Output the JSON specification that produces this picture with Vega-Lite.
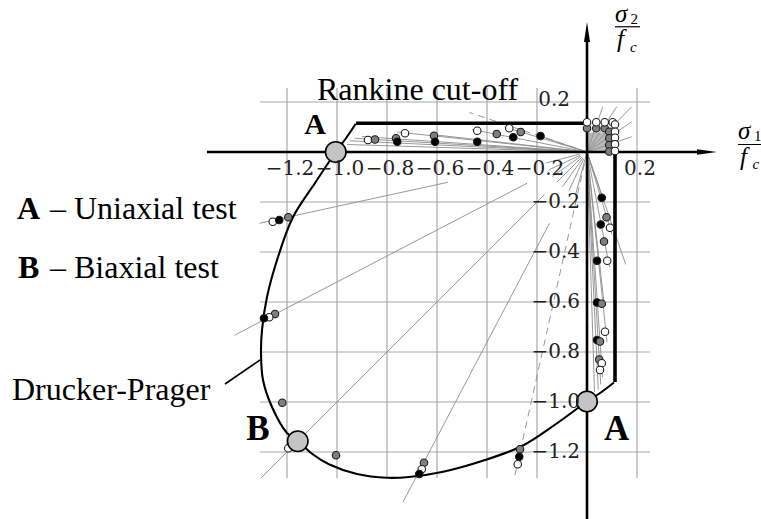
{
  "$schema": "https://vega.github.io/schema/vega-lite/v6.json",
  "width": 761,
  "height": 519,
  "autosize": {"type": "none"},
  "padding": 0,
  "background": "white",
  "config": {"view": {"stroke": null}},
  "datasets": {
    "grid": [
      {"x": -1.2, "y": -1.304, "x2": -1.2, "y2": 0.256},
      {"x": -1.0, "y": -1.304, "x2": -1.0, "y2": 0.256},
      {"x": -0.8, "y": -1.304, "x2": -0.8, "y2": 0.256},
      {"x": -0.6, "y": -1.304, "x2": -0.6, "y2": 0.256},
      {"x": -0.4, "y": -1.304, "x2": -0.4, "y2": 0.256},
      {"x": -0.2, "y": -1.304, "x2": -0.2, "y2": 0.256},
      {"x": 0.2, "y": -1.304, "x2": 0.2, "y2": 0.256},
      {"x": -1.308, "y": -1.2, "x2": 0.252, "y2": -1.2},
      {"x": -1.308, "y": -1.0, "x2": 0.252, "y2": -1.0},
      {"x": -1.308, "y": -0.8, "x2": 0.252, "y2": -0.8},
      {"x": -1.308, "y": -0.6, "x2": 0.252, "y2": -0.6},
      {"x": -1.308, "y": -0.4, "x2": 0.252, "y2": -0.4},
      {"x": -1.308, "y": -0.2, "x2": 0.252, "y2": -0.2},
      {"x": -1.308, "y": 0.2, "x2": 0.252, "y2": 0.2}
    ],
    "square": [{"x": 0, "y": 0, "x2": 0.082, "y2": 0.078}],
    "paths": [
      {"x": 0, "y": 0, "x2": -0.96, "y2": 0.03},
      {"x": 0, "y": 0, "x2": -0.95, "y2": 0.045},
      {"x": 0, "y": 0, "x2": -0.93, "y2": 0.055},
      {"x": 0, "y": 0, "x2": -0.9, "y2": 0.062},
      {"x": 0, "y": 0, "x2": -0.76, "y2": 0.08},
      {"x": 0, "y": 0, "x2": -0.62, "y2": 0.07},
      {"x": 0, "y": 0, "x2": -0.46, "y2": 0.09},
      {"x": 0, "y": 0, "x2": -0.33, "y2": 0.1},
      {"x": 0, "y": 0, "x2": -0.2, "y2": 0.068},
      {"x": 0, "y": 0, "x2": 0.03, "y2": -0.96},
      {"x": 0, "y": 0, "x2": 0.045, "y2": -0.95},
      {"x": 0, "y": 0, "x2": 0.055, "y2": -0.93},
      {"x": 0, "y": 0, "x2": 0.062, "y2": -0.9},
      {"x": 0, "y": 0, "x2": 0.08, "y2": -0.76},
      {"x": 0, "y": 0, "x2": 0.07, "y2": -0.62},
      {"x": 0, "y": 0, "x2": 0.09, "y2": -0.46},
      {"x": 0, "y": 0, "x2": 0.1, "y2": -0.33},
      {"x": 0, "y": 0, "x2": 0.068, "y2": -0.2},
      {"x": 0, "y": 0, "x2": 0.155, "y2": -0.45},
      {"x": 0, "y": 0, "x2": 0.063, "y2": 0.181},
      {"x": 0, "y": 0, "x2": 0.119, "y2": 0.181},
      {"x": 0, "y": 0, "x2": 0.179, "y2": 0.181},
      {"x": 0, "y": 0, "x2": 0.179, "y2": 0.121},
      {"x": 0, "y": 0, "x2": 0.179, "y2": 0.061},
      {"x": -1.31, "y": -0.285, "x2": -0.556, "y2": -0.121},
      {"x": -1.41, "y": -0.733, "x2": -0.24, "y2": -0.125},
      {"x": -1.305, "y": -1.305, "x2": -0.17, "y2": -0.17},
      {"x": -0.736, "y": -1.4, "x2": -0.15, "y2": -0.285},
      {"x": -0.029, "y": -0.008, "x2": -0.164, "y2": -0.044},
      {"x": -0.027, "y": -0.013, "x2": -0.154, "y2": -0.072},
      {"x": -0.025, "y": -0.017, "x2": -0.139, "y2": -0.098},
      {"x": -0.021, "y": -0.021, "x2": -0.12, "y2": -0.12},
      {"x": -0.017, "y": -0.025, "x2": -0.098, "y2": -0.139},
      {"x": -0.013, "y": -0.027, "x2": -0.072, "y2": -0.154},
      {"x": -0.008, "y": -0.029, "x2": -0.044, "y2": -0.164}
    ],
    "pathsDashed": [
      {"x": 0, "y": 0, "x2": -0.47, "y2": 0.158},
      {"x": 0, "y": 0, "x2": -0.29, "y2": -1.3}
    ],
    "axes": [
      {"x": -1.52, "y": 0, "x2": 0.45, "y2": 0},
      {"x": 0, "y": -1.5, "x2": 0, "y2": 0.45}
    ],
    "arrowX": [{"x": 0.48, "y": 0}],
    "arrowY": [{"x": 0, "y": 0.48}],
    "rankine": [
      {"x": -0.924, "y": 0.115, "x2": 0, "y2": 0.115},
      {"x": 0.112, "y": 0, "x2": 0.112, "y2": -0.92}
    ],
    "druckerPrager": [
      {"i": 0, "x": -0.925, "y": 0.113},
      {"i": 1, "x": -0.962, "y": 0.058},
      {"i": 2, "x": -1.005, "y": 0.0},
      {"i": 3, "x": -1.088, "y": -0.124},
      {"i": 4, "x": -1.176, "y": -0.26},
      {"i": 5, "x": -1.236, "y": -0.42},
      {"i": 6, "x": -1.28, "y": -0.58},
      {"i": 7, "x": -1.3, "y": -0.712},
      {"i": 8, "x": -1.304, "y": -0.804},
      {"i": 9, "x": -1.296, "y": -0.912},
      {"i": 10, "x": -1.26, "y": -1.02},
      {"i": 11, "x": -1.2, "y": -1.124},
      {"i": 12, "x": -1.156, "y": -1.156},
      {"i": 13, "x": -1.1, "y": -1.207},
      {"i": 14, "x": -1.03, "y": -1.25},
      {"i": 15, "x": -0.92, "y": -1.288},
      {"i": 16, "x": -0.8, "y": -1.303},
      {"i": 17, "x": -0.712, "y": -1.3},
      {"i": 18, "x": -0.58, "y": -1.28},
      {"i": 19, "x": -0.42, "y": -1.236},
      {"i": 20, "x": -0.26, "y": -1.176},
      {"i": 21, "x": -0.124, "y": -1.088},
      {"i": 22, "x": 0.0, "y": -0.998},
      {"i": 23, "x": 0.058, "y": -0.96},
      {"i": 24, "x": 0.108, "y": -0.922}
    ],
    "leader": [{"x": -1.448, "y": -0.928, "x2": -1.308, "y2": -0.832}],
    "markers": [
      {"type": "open", "x": -0.876, "y": 0.048},
      {"type": "gray", "x": -0.848, "y": 0.05},
      {"type": "gray", "x": -0.764, "y": 0.055},
      {"type": "black", "x": -0.759, "y": 0.041},
      {"type": "open", "x": -0.728, "y": 0.075},
      {"type": "gray", "x": -0.612, "y": 0.065},
      {"type": "black", "x": -0.608, "y": 0.041},
      {"type": "open", "x": -0.439, "y": 0.085},
      {"type": "black", "x": -0.439, "y": 0.041},
      {"type": "gray", "x": -0.361, "y": 0.072},
      {"type": "open", "x": -0.311, "y": 0.095},
      {"type": "black", "x": -0.295, "y": 0.059},
      {"type": "gray", "x": -0.265, "y": 0.08},
      {"type": "black", "x": -0.186, "y": 0.064},
      {"type": "gray", "x": 0.0, "y": 0.095},
      {"type": "gray", "x": 0.037, "y": 0.095},
      {"type": "gray", "x": 0.071, "y": 0.095},
      {"type": "gray", "x": 0.089, "y": 0.081},
      {"type": "gray", "x": 0.089, "y": 0.055},
      {"type": "gray", "x": 0.089, "y": 0.028},
      {"type": "gray", "x": 0.089, "y": 0.002},
      {"type": "open", "x": 0.0, "y": 0.119},
      {"type": "open", "x": 0.037, "y": 0.119},
      {"type": "open", "x": 0.071, "y": 0.119},
      {"type": "open", "x": 0.103, "y": 0.119},
      {"type": "open", "x": 0.112, "y": 0.11},
      {"type": "open", "x": 0.112, "y": 0.081},
      {"type": "open", "x": 0.112, "y": 0.057},
      {"type": "open", "x": 0.112, "y": 0.031},
      {"type": "open", "x": 0.112, "y": 0.004},
      {"type": "black", "x": 0.059, "y": -0.183},
      {"type": "gray", "x": 0.078, "y": -0.261},
      {"type": "black", "x": 0.055, "y": -0.29},
      {"type": "open", "x": 0.092, "y": -0.303},
      {"type": "gray", "x": 0.068, "y": -0.358},
      {"type": "black", "x": 0.04, "y": -0.435},
      {"type": "open", "x": 0.081, "y": -0.435},
      {"type": "black", "x": 0.04, "y": -0.602},
      {"type": "gray", "x": 0.059, "y": -0.607},
      {"type": "open", "x": 0.072, "y": -0.719},
      {"type": "black", "x": 0.04, "y": -0.752},
      {"type": "gray", "x": 0.052, "y": -0.758},
      {"type": "gray", "x": 0.049, "y": -0.83},
      {"type": "open", "x": 0.059, "y": -0.845},
      {"type": "open", "x": 0.052, "y": -0.872},
      {"type": "open", "x": -1.257, "y": -0.279},
      {"type": "black", "x": -1.231, "y": -0.272},
      {"type": "gray", "x": -1.195, "y": -0.261},
      {"type": "gray", "x": -1.248, "y": -0.648},
      {"type": "open", "x": -1.271, "y": -0.661},
      {"type": "black", "x": -1.292, "y": -0.665},
      {"type": "gray", "x": -1.219, "y": -1.003},
      {"type": "open", "x": -1.195, "y": -1.185},
      {"type": "gray", "x": -1.004, "y": -1.213},
      {"type": "gray", "x": -0.652, "y": -1.243},
      {"type": "open", "x": -0.661, "y": -1.269},
      {"type": "black", "x": -0.671, "y": -1.288},
      {"type": "gray", "x": -0.268, "y": -1.189},
      {"type": "black", "x": -0.271, "y": -1.219},
      {"type": "open", "x": -0.277, "y": -1.249}
    ],
    "tests": [
      {"test": "A", "x": -1.005, "y": 0.0},
      {"test": "A", "x": 0.0, "y": -0.998},
      {"test": "B", "x": -1.157, "y": -1.157}
    ],
    "ticksX": [
      {"x": -1.2, "y": -0.09, "label": "−1.2"},
      {"x": -1.0, "y": -0.09, "label": "−1.0"},
      {"x": -0.8, "y": -0.09, "label": "−0.8"},
      {"x": -0.6, "y": -0.09, "label": "−0.6"},
      {"x": -0.4, "y": -0.09, "label": "−0.4"},
      {"x": -0.2, "y": -0.09, "label": "−0.2"},
      {"x": 0.2, "y": -0.09, "label": "0.2"}
    ],
    "ticksY": [
      {"x": -0.028, "y": -0.2, "label": "−0.2"},
      {"x": -0.028, "y": -0.4, "label": "−0.4"},
      {"x": -0.028, "y": -0.6, "label": "−0.6"},
      {"x": -0.028, "y": -0.8, "label": "−0.8"},
      {"x": -0.028, "y": -1.0, "label": "−1.0"},
      {"x": -0.028, "y": -1.2, "label": "−1.2"}
    ],
    "ticksYTop": [{"x": -0.068, "y": 0.2, "label": "0.2"}],
    "notes": [
      {"x": -1.08, "y": 0.208, "label": "Rankine cut-off"},
      {"x": -2.148, "y": -0.268, "label": "– Uniaxial test"},
      {"x": -2.148, "y": -0.504, "label": "– Biaxial test"},
      {"x": -2.3, "y": -0.992, "label": "Drucker-Prager"}
    ],
    "keyLetters": [
      {"x": -2.28, "y": -0.268, "label": "A"},
      {"x": -2.276, "y": -0.504, "label": "B"}
    ],
    "pointLetterTop": [{"x": -1.088, "y": 0.072, "label": "A"}],
    "pointLetters": [
      {"x": -1.316, "y": -1.152, "label": "B"},
      {"x": 0.119, "y": -1.152, "label": "A"}
    ],
    "sigma": [
      {"x": 0.112, "y": 0.521, "label": "σ"},
      {"x": 0.604, "y": 0.054, "label": "σ"}
    ],
    "sigmaIndex": [
      {"x": 0.174, "y": 0.514, "label": "2"},
      {"x": 0.668, "y": 0.046, "label": "1"}
    ],
    "fBars": [
      {"x": 0.112, "y": 0.501, "x2": 0.212, "y2": 0.501},
      {"x": 0.604, "y": 0.03, "x2": 0.74, "y2": 0.03}
    ],
    "fc": [
      {"x": 0.12, "y": 0.42, "label": "f"},
      {"x": 0.612, "y": -0.05, "label": "f"}
    ],
    "fcIndex": [
      {"x": 0.172, "y": 0.402, "label": "c"},
      {"x": 0.662, "y": -0.068, "label": "c"}
    ]
  },
  "encoding": {
    "x": {"field": "x", "type": "quantitative", "scale": {"domain": [-2.348, 0.696], "nice": false, "zero": false}, "axis": null},
    "y": {"field": "y", "type": "quantitative", "scale": {"domain": [-1.468, 0.608], "nice": false, "zero": false}, "axis": null}
  },
  "layer": [
    {
      "data": {"name": "grid"},
      "mark": {"type": "rule", "stroke": "#a8a8a8", "strokeWidth": 1.2},
      "encoding": {"x2": {"field": "x2"}, "y2": {"field": "y2"}}
    },
    {
      "data": {"name": "square"},
      "mark": {"type": "rect", "fill": "#b8b8b8"},
      "encoding": {"x2": {"field": "x2"}, "y2": {"field": "y2"}}
    },
    {
      "data": {"name": "paths"},
      "mark": {"type": "rule", "stroke": "#8c8c8c", "strokeWidth": 0.9},
      "encoding": {"x2": {"field": "x2"}, "y2": {"field": "y2"}}
    },
    {
      "data": {"name": "pathsDashed"},
      "mark": {"type": "rule", "stroke": "#8c8c8c", "strokeWidth": 0.9, "strokeDash": [7, 5]},
      "encoding": {"x2": {"field": "x2"}, "y2": {"field": "y2"}}
    },
    {
      "data": {"name": "axes"},
      "mark": {"type": "rule", "stroke": "#000000", "strokeWidth": 2.6},
      "encoding": {"x2": {"field": "x2"}, "y2": {"field": "y2"}}
    },
    {
      "data": {"name": "arrowX"},
      "mark": {"type": "point", "shape": "M1,0L-1,0.28L-1,-0.28Z", "size": 400, "filled": true, "fill": "#000000", "opacity": 1, "strokeWidth": 0}
    },
    {
      "data": {"name": "arrowY"},
      "mark": {"type": "point", "shape": "M0,-1L0.3,1L-0.3,1Z", "size": 400, "filled": true, "fill": "#000000", "opacity": 1, "strokeWidth": 0}
    },
    {
      "data": {"name": "rankine"},
      "mark": {"type": "rule", "stroke": "#000000", "strokeWidth": 3.6, "strokeCap": "butt"},
      "encoding": {"x2": {"field": "x2"}, "y2": {"field": "y2"}}
    },
    {
      "data": {"name": "druckerPrager"},
      "mark": {"type": "line", "interpolate": "catmull-rom", "stroke": "#000000", "strokeWidth": 2.1},
      "encoding": {"order": {"field": "i", "type": "quantitative"}}
    },
    {
      "data": {"name": "leader"},
      "mark": {"type": "rule", "stroke": "#000000", "strokeWidth": 1.6},
      "encoding": {"x2": {"field": "x2"}, "y2": {"field": "y2"}}
    },
    {
      "data": {"name": "markers"},
      "mark": {"type": "point", "filled": true, "size": 56, "stroke": "#1a1a1a", "strokeWidth": 1.1, "opacity": 1},
      "encoding": {
        "fill": {"field": "type", "type": "nominal", "scale": {"domain": ["open", "gray", "black"], "range": ["#ffffff", "#7f7f7f", "#000000"]}, "legend": null}
      }
    },
    {
      "data": {"name": "tests"},
      "mark": {"type": "point", "filled": true, "size": 420, "fill": "#c4c4c4", "stroke": "#000000", "strokeWidth": 1.6, "opacity": 1}
    },
    {
      "data": {"name": "ticksX"},
      "mark": {"type": "text", "font": "DejaVu Serif", "fontSize": 20, "align": "center", "baseline": "alphabetic", "dx": 3, "fill": "#222222"},
      "encoding": {"text": {"field": "label"}}
    },
    {
      "data": {"name": "ticksY"},
      "mark": {"type": "text", "font": "DejaVu Serif", "fontSize": 20, "align": "right", "baseline": "alphabetic", "dy": 6, "fill": "#222222"},
      "encoding": {"text": {"field": "label"}}
    },
    {
      "data": {"name": "ticksYTop"},
      "mark": {"type": "text", "font": "DejaVu Serif", "fontSize": 20, "align": "right", "baseline": "alphabetic", "dy": 4, "fill": "#222222"},
      "encoding": {"text": {"field": "label"}}
    },
    {
      "data": {"name": "notes"},
      "mark": {"type": "text", "font": "Liberation Serif", "fontSize": 32, "align": "left", "baseline": "alphabetic", "fill": "#000000"},
      "encoding": {"text": {"field": "label"}}
    },
    {
      "data": {"name": "keyLetters"},
      "mark": {"type": "text", "font": "Liberation Serif", "fontWeight": "bold", "fontSize": 32, "align": "left", "baseline": "alphabetic", "fill": "#000000"},
      "encoding": {"text": {"field": "label"}}
    },
    {
      "data": {"name": "pointLetterTop"},
      "mark": {"type": "text", "font": "Liberation Serif", "fontWeight": "bold", "fontSize": 30, "align": "center", "baseline": "alphabetic", "fill": "#000000"},
      "encoding": {"text": {"field": "label"}}
    },
    {
      "data": {"name": "pointLetters"},
      "mark": {"type": "text", "font": "Liberation Serif", "fontWeight": "bold", "fontSize": 35, "align": "center", "baseline": "alphabetic", "fill": "#000000"},
      "encoding": {"text": {"field": "label"}}
    },
    {
      "data": {"name": "sigma"},
      "mark": {"type": "text", "font": "Liberation Serif", "fontStyle": "italic", "fontSize": 25, "align": "left", "baseline": "alphabetic", "fill": "#000000"},
      "encoding": {"text": {"field": "label"}}
    },
    {
      "data": {"name": "sigmaIndex"},
      "mark": {"type": "text", "font": "Liberation Serif", "fontSize": 15, "align": "left", "baseline": "alphabetic", "fill": "#000000"},
      "encoding": {"text": {"field": "label"}}
    },
    {
      "data": {"name": "fBars"},
      "mark": {"type": "rule", "stroke": "#000000", "strokeWidth": 1.2},
      "encoding": {"x2": {"field": "x2"}, "y2": {"field": "y2"}}
    },
    {
      "data": {"name": "fc"},
      "mark": {"type": "text", "font": "Liberation Serif", "fontStyle": "italic", "fontSize": 25, "align": "left", "baseline": "alphabetic", "fill": "#000000"},
      "encoding": {"text": {"field": "label"}}
    },
    {
      "data": {"name": "fcIndex"},
      "mark": {"type": "text", "font": "Liberation Serif", "fontStyle": "italic", "fontSize": 15, "align": "left", "baseline": "alphabetic", "fill": "#000000"},
      "encoding": {"text": {"field": "label"}}
    }
  ]
}
